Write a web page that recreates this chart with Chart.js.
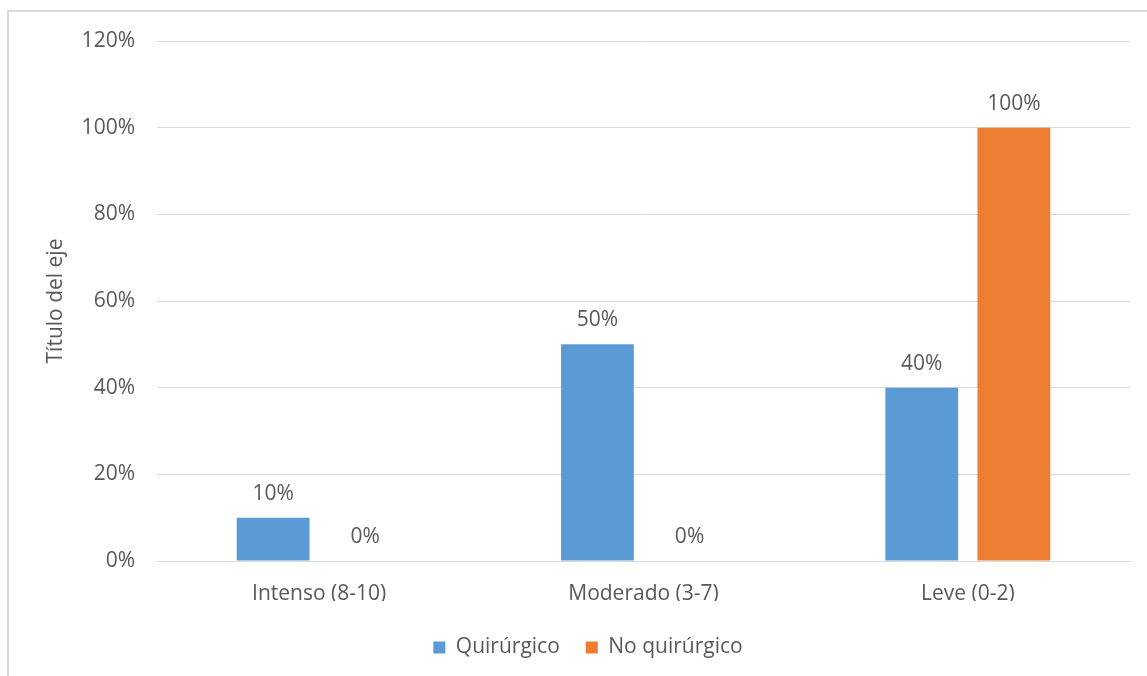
<!DOCTYPE html>
<html lang="es">
<head>
    <meta charset="UTF-8">
    <title>Quirúrgico vs No quirúrgico</title>
    <script src="https://cdn.jsdelivr.net/npm/chart.js"></script>
    <style>
        body { margin: 0; background: #fff; }
        #wrap { position: relative; width: 1147px; height: 676px; }
        #frame { position: absolute; left: 7px; top: 10px; right: -5px; bottom: -5px;
                 border-left: 2px solid #d9d9d9; border-top: 2px solid #d9d9d9; }
        canvas { position: absolute; left: 0; top: 0; }
    </style>
</head>
<body>
<div id="wrap">
    <div id="frame"></div>
    <canvas id="chart" width="1147" height="676"></canvas>
</div>
<script>
    // data
    const categories = ['Intenso (8-10)', 'Moderado (3-7)', 'Leve (0-2)'];
    const quirurgico = [10, 50, 40];
    const noQuirurgico = [0, 0, 100];
    const yMax = 120;
    const yStep = 20;

    const textColor = '#595959';
    const gridColor = '#d9d9d9';
    const fontFamily = '"Open Sans", sans-serif';
    const fontSize = 21;

    // value labels above each bar
    const barLabels = {
        id: 'barLabels',
        afterDatasetsDraw(chart) {
            const ctx = chart.ctx;
            ctx.save();
            ctx.font = fontSize + 'px ' + fontFamily;
            ctx.fillStyle = textColor;
            ctx.textAlign = 'center';
            ctx.textBaseline = 'alphabetic';
            chart.data.datasets.forEach((ds, i) => {
                chart.getDatasetMeta(i).data.forEach((bar, j) => {
                    ctx.fillText(ds.data[j] + '%', bar.x, bar.y - 18);
                });
            });
            ctx.restore();
        }
    };

    // the original legend is centred on a frame wider than the picture
    const legendShift = {
        id: 'legendShift',
        afterLayout(chart) {
            const lg = chart.legend;
            lg.left += 23; lg.right += 23;
            lg.top += 10; lg.bottom += 10;
        }
    };

    new Chart(document.getElementById('chart'), {
        type: 'bar',
        data: {
            labels: categories,
            datasets: [
                { label: 'Quirúrgico', data: quirurgico, backgroundColor: '#5b9bd5' },
                { label: 'No quirúrgico', data: noQuirurgico, backgroundColor: '#ed7d31' }
            ]
        },
        options: {
            responsive: false,
            animation: false,
            devicePixelRatio: 1,
            categoryPercentage: 0.568,
            barPercentage: 0.79,
            layout: { padding: { top: 41, right: 17, bottom: 18, left: 0 } },
            plugins: {
                legend: {
                    position: 'bottom',
                    labels: {
                        color: textColor,
                        font: { family: fontFamily, size: fontSize },
                        boxWidth: 12,
                        boxHeight: 12,
                        padding: 26
                    }
                },
                tooltip: { enabled: false }
            },
            scales: {
                x: {
                    grid: { display: false, drawTicks: false },
                    border: { color: gridColor, width: 1 },
                    ticks: { color: textColor, font: { family: fontFamily, size: fontSize }, padding: 20 },
                    afterFit(scale) { scale.height = 40; }
                },
                y: {
                    min: 0,
                    max: yMax,
                    grid: { color: gridColor, drawTicks: false },
                    border: { display: false },
                    ticks: {
                        stepSize: yStep,
                        color: textColor,
                        font: { family: fontFamily, size: fontSize },
                        padding: 22,
                        callback: v => v + '%'
                    },
                    title: {
                        display: true,
                        text: 'Título del eje',
                        color: textColor,
                        font: { family: fontFamily, size: fontSize },
                        padding: { top: 43, bottom: 0 }
                    },
                    afterFit(scale) { scale.width = 157; }
                }
            }
        },
        plugins: [barLabels, legendShift]
    });
</script>
</body>
</html>
